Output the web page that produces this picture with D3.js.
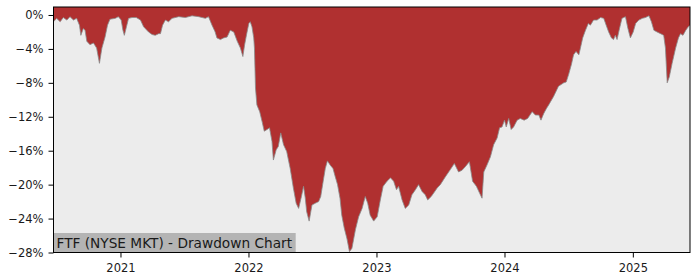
<!DOCTYPE html>
<html>
<head>
<meta charset="utf-8">
<script src="https://cdn.jsdelivr.net/npm/d3@7"></script>
<style>
  html, body { margin: 0; padding: 0; background: #ffffff; }
  svg { display: block; }
  text { font-family: "DejaVu Sans", sans-serif; }
</style>
</head>
<body>
<svg id="chart" width="700" height="280"></svg>
<script>
const dates = [
  "2020-06-24","2020-07-03","2020-07-13","2020-07-22","2020-08-01","2020-08-10","2020-08-20","2020-08-29",
  "2020-09-06","2020-09-10","2020-09-17","2020-09-22","2020-09-27","2020-10-06","2020-10-16","2020-10-25",
  "2020-11-02","2020-11-09","2020-11-18","2020-11-25","2020-12-02","2020-12-17","2020-12-26",
  "2021-01-03","2021-01-08","2021-01-12","2021-01-18","2021-01-24","2021-02-03","2021-02-15","2021-02-27",
  "2021-03-08","2021-03-22","2021-04-01","2021-04-10","2021-04-20","2021-04-25","2021-05-01","2021-05-09",
  "2021-05-18","2021-05-28","2021-06-16","2021-07-05","2021-07-24","2021-08-12","2021-08-31","2021-09-09",
  "2021-09-19","2021-09-28","2021-10-03","2021-10-13","2021-10-22","2021-11-01","2021-11-10","2021-11-20",
  "2021-11-30","2021-12-09","2021-12-16","2021-12-21","2021-12-27",
  "2022-01-02","2022-01-06","2022-01-11","2022-01-16","2022-01-18","2022-01-21","2022-01-25","2022-02-02",
  "2022-02-09","2022-02-15","2022-02-23","2022-03-02","2022-03-09","2022-03-13","2022-03-21","2022-03-27",
  "2022-04-03","2022-04-11","2022-04-20","2022-04-30","2022-05-09","2022-05-17","2022-05-24","2022-06-01",
  "2022-06-07","2022-06-12","2022-06-16","2022-06-23","2022-07-01","2022-07-10","2022-07-20","2022-07-26",
  "2022-08-02","2022-08-08","2022-08-14","2022-08-22","2022-08-30","2022-09-05","2022-09-12","2022-09-19",
  "2022-09-24","2022-10-01","2022-10-09","2022-10-16","2022-10-23","2022-11-02","2022-11-11","2022-11-21",
  "2022-11-30","2022-12-07","2022-12-14","2022-12-24",
  "2023-01-03","2023-01-12","2023-01-20","2023-01-31","2023-02-10","2023-02-19","2023-02-27","2023-03-05",
  "2023-03-15","2023-03-24","2023-04-03","2023-04-12","2023-04-22","2023-05-01","2023-05-11","2023-05-20",
  "2023-05-27","2023-06-06","2023-06-13","2023-06-23","2023-07-02","2023-07-16","2023-07-31","2023-08-11",
  "2023-08-23","2023-09-02","2023-09-11","2023-09-23","2023-10-02","2023-10-13","2023-10-22","2023-10-29",
  "2023-11-03","2023-11-12","2023-11-22","2023-12-01","2023-12-11","2023-12-18","2023-12-25",
  "2024-01-01","2024-01-06","2024-01-13","2024-01-20","2024-01-27","2024-02-06","2024-02-15","2024-02-26",
  "2024-03-07","2024-03-20","2024-03-29","2024-04-08","2024-04-14","2024-04-22","2024-04-30","2024-05-06",
  "2024-05-20","2024-06-03","2024-06-18","2024-06-25","2024-07-02","2024-07-10","2024-07-16","2024-07-23",
  "2024-07-31","2024-08-04","2024-08-11","2024-08-19","2024-08-27","2024-09-02","2024-09-11","2024-09-21",
  "2024-10-01","2024-10-10","2024-10-17","2024-10-24","2024-11-01","2024-11-07","2024-11-12","2024-11-17",
  "2024-11-24","2024-12-01","2024-12-11","2024-12-18","2024-12-25",
  "2025-01-02","2025-01-09","2025-01-18","2025-01-28","2025-02-06","2025-02-16","2025-02-23","2025-03-02",
  "2025-03-11","2025-03-21","2025-03-30","2025-04-04","2025-04-09","2025-04-15","2025-04-23","2025-05-03",
  "2025-05-11","2025-05-17","2025-05-24","2025-06-01","2025-06-08","2025-06-13"
];
const drawdown = [
  -0.8,-0.4,-0.8,-0.3,-0.6,-0.2,-0.6,-0.4,
  -1.2,-2.4,-1.6,-1.8,-3.1,-3.5,-3.3,-3.9,
  -5.7,-3.9,-2.6,-1.2,-0.5,-0.4,-0.2,
  -0.6,-1.8,-2.4,-1.4,-0.4,-0.3,-0.3,-0.6,
  -1.4,-2.0,-2.3,-2.4,-2.2,-2.2,-1.2,-0.6,
  -0.8,-0.4,-0.2,-0.3,-0.1,-0.2,-0.4,-0.2,
  -1.2,-2.0,-2.7,-2.9,-2.7,-2.6,-1.8,-2.0,
  -3.1,-3.9,-4.9,-3.5,-2.2,
  -1.0,-0.8,-1.4,-2.7,-3.9,-8.6,-10.6,-11.4,
  -12.6,-13.7,-13.5,-13.3,-14.9,-17.1,-15.9,-15.5,
  -13.9,-15.3,-16.1,-18.1,-20.4,-22.2,-22.8,-21.4,
  -20.2,-21.6,-23.2,-24.3,-22.4,-22.2,-22.0,-21.4,
  -19.6,-18.1,-17.2,-17.7,-18.1,-19.0,-20.0,-21.6,
  -23.6,-25.1,-26.4,-27.9,-27.5,-25.3,-23.8,-22.8,
  -21.4,-22.2,-23.6,-24.3,
  -23.8,-21.8,-20.2,-19.6,-19.2,-19.6,-20.6,-20.2,
  -21.8,-22.8,-22.4,-21.2,-20.6,-20.0,-20.8,-21.2,
  -21.8,-21.4,-21.0,-20.4,-20.0,-19.1,-18.2,-17.5,
  -18.5,-18.3,-17.9,-17.3,-19.6,-20.2,-21.0,-21.6,
  -18.5,-17.7,-16.7,-15.3,-14.5,-13.3,-13.2,
  -12.4,-13.2,-12.2,-13.5,-13.2,-12.4,-12.2,-12.4,
  -12.2,-11.4,-11.8,-11.8,-12.4,-11.6,-11.0,-10.6,
  -9.6,-8.4,-8.0,-7.9,-7.0,-5.8,-4.7,-4.3,
  -4.7,-4.0,-2.7,-1.8,-1.0,-1.2,-0.6,-0.6,
  -0.3,-0.4,-1.2,-2.0,-2.7,-2.9,-2.4,-2.9,
  -1.6,-0.4,-0.2,-1.6,-2.7,
  -2.0,-1.0,-0.6,-0.4,-0.3,-0.1,-0.8,-1.8,
  -2.0,-2.2,-2.4,-3.9,-8.0,-7.3,-5.7,-3.9,
  -2.7,-2.2,-2.4,-1.8,-1.4,-1.2
];
const yTicks = [0, -4, -8, -12, -16, -20, -24, -28];
const xTickYears = [2021, 2022, 2023, 2024, 2025];
const titleText = "FTF (NYSE MKT) - Drawdown Chart";

const parse = d3.timeParse("%Y-%m-%d");
const data = dates.map((d, i) => ({ date: parse(d), value: drawdown[i] }));

const margin = { left: 53.5, right: 10, top: 7, bottom: 27.5 };
const W = 700, H = 280;
const svg = d3.select("#chart");

const x = d3.scaleTime()
  .domain(d3.extent(data, d => d.date))
  .range([margin.left, W - margin.right]);
const y = d3.scaleLinear()
  .domain([-28, 0.94])
  .range([H - margin.bottom, margin.top]);

svg.append("rect")
  .attr("x", margin.left).attr("y", margin.top)
  .attr("width", W - margin.right - margin.left)
  .attr("height", H - margin.bottom - margin.top)
  .attr("fill", "#ececec");

svg.append("clipPath").attr("id", "clip")
  .append("rect")
  .attr("x", margin.left).attr("y", margin.top)
  .attr("width", W - margin.right - margin.left)
  .attr("height", H - margin.bottom - margin.top);

const area = d3.area()
  .x(d => x(d.date))
  .y0(y(y.domain()[1]))
  .y1(d => y(d.value));

const g = svg.append("g").attr("clip-path", "url(#clip)");
g.append("path").datum(data)
  .attr("d", area)
  .attr("fill", "#b03030");
g.append("path").datum(data)
  .attr("d", d3.line().x(d => x(d.date)).y(d => y(d.value)))
  .attr("fill", "none")
  .attr("stroke", "#8a8a8a")
  .attr("stroke-width", 0.8);

const lbl = svg.append("g");
const lblText = lbl.append("text")
  .attr("x", margin.left + 3)
  .attr("y", H - margin.bottom - 5)
  .attr("font-size", 13.7)
  .attr("fill", "#1a1a1a")
  .text(titleText);
const bb = lblText.node().getBBox();
lbl.insert("rect", "text")
  .attr("x", margin.left)
  .attr("y", H - margin.bottom - 19.5)
  .attr("width", bb.width + 6)
  .attr("height", 19.5)
  .attr("fill", "#b4b4b4");

svg.append("rect")
  .attr("x", margin.left).attr("y", margin.top)
  .attr("width", W - margin.right - margin.left)
  .attr("height", H - margin.bottom - margin.top)
  .attr("fill", "none")
  .attr("stroke", "#000")
  .attr("stroke-width", 1);

const fmtPct = d => (d < 0 ? "\u2212" : "") + Math.abs(d) + "%";
const yAxis = svg.append("g")
  .attr("transform", `translate(${margin.left},0)`)
  .call(d3.axisLeft(y).tickValues(yTicks).tickFormat(fmtPct).tickSize(5).tickPadding(5));
yAxis.select(".domain").remove();
yAxis.selectAll("text").attr("font-size", 11.5).attr("fill", "#1a1a1a").attr("font-family", "DejaVu Sans");

const xAxis = svg.append("g")
  .attr("transform", `translate(0,${H - margin.bottom})`)
  .call(d3.axisBottom(x)
    .tickValues(xTickYears.map(yr => new Date(yr, 0, 1)))
    .tickFormat(d3.timeFormat("%Y")).tickSize(5).tickPadding(6));
xAxis.select(".domain").remove();
xAxis.selectAll("text").attr("font-size", 11.5).attr("fill", "#1a1a1a").attr("font-family", "DejaVu Sans");
</script>
</body>
</html>
